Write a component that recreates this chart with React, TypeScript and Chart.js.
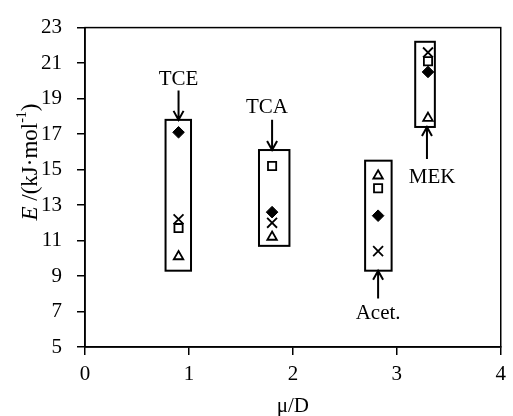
import React, { useEffect, useRef } from 'react';
import { Chart, registerables } from 'chart.js';

Chart.register(...registerables);

// Data
const solvents = ['TCE', 'TCA', 'Acet.', 'MEK'];
const dipoleMoment = [0.9, 1.8, 2.82, 3.3];
const diamondE = [17.1, 12.6, 12.4, 20.5];
const squareE = [11.7, 15.2, 13.95, 21.1];
const triangleE = [10.1, 11.2, 14.65, 17.9];
const crossE = [12.2, 12.0, 10.4, 21.6];

// Boxes around each solvent group (data units)
const boxXMin = [0.775, 1.674, 2.695, 3.177];
const boxXMax = [1.02, 1.967, 2.95, 3.366];
const boxYMin = [9.3, 10.7, 9.3, 17.4];
const boxYMax = [17.8, 16.1, 15.5, 22.2];

// Labels and arrows (data units)
const labelX = [0.9, 1.75, 2.82, 3.34];
const labelY = [20.05, 18.47, 6.9, 14.55];
const arrowX = [0.9, 1.8, 2.82, 3.29];
const arrowFrom = [19.45, 17.8, 7.73, 15.6];
const arrowTo = [17.8, 16.1, 9.3, 17.4];

const xTicks = [0, 1, 2, 3, 4];
const yTicks = [5, 7, 9, 11, 13, 15, 17, 19, 21, 23];

const FONT = '"Liberation Serif", "Times New Roman", serif';

const annotate = {
  id: 'annotate',
  afterDatasetsDraw(chart: any) {
    const { ctx, chartArea: a, scales } = chart;
    const x = scales.x;
    const y = scales.y;
    ctx.save();
    ctx.strokeStyle = '#000';
    ctx.fillStyle = '#000';
    // frame
    ctx.lineWidth = 1.5;
    ctx.strokeRect(a.left, a.top, a.right - a.left, a.bottom - a.top);
    // boxes
    ctx.lineWidth = 2;
    for (let i = 0; i < solvents.length; i++) {
      const x0 = x.getPixelForValue(boxXMin[i]);
      const x1 = x.getPixelForValue(boxXMax[i]);
      const y0 = y.getPixelForValue(boxYMax[i]);
      const y1 = y.getPixelForValue(boxYMin[i]);
      ctx.strokeRect(x0, y0, x1 - x0, y1 - y0);
    }
    // arrows
    ctx.lineWidth = 2;
    for (let i = 0; i < solvents.length; i++) {
      const ax = x.getPixelForValue(arrowX[i]);
      const ya = y.getPixelForValue(arrowFrom[i]);
      const yb = y.getPixelForValue(arrowTo[i]);
      const dir = yb > ya ? 1 : -1;
      ctx.beginPath();
      ctx.moveTo(ax, ya);
      ctx.lineTo(ax, yb);
      ctx.moveTo(ax - 5, yb - dir * 9);
      ctx.lineTo(ax, yb);
      ctx.lineTo(ax + 5, yb - dir * 9);
      ctx.stroke();
    }
    // labels
    ctx.font = '21px ' + FONT;
    ctx.textAlign = 'center';
    ctx.textBaseline = 'middle';
    for (let i = 0; i < solvents.length; i++) {
      ctx.fillText(solvents[i], x.getPixelForValue(labelX[i]), y.getPixelForValue(labelY[i]));
    }
    // x title
    ctx.fillText('\u03bc/D', (a.left + a.right) / 2, 406);
    // y title
    ctx.translate(31, 162);
    ctx.rotate(-Math.PI / 2);
    ctx.textAlign = 'left';
    const fItal = 'italic 23px ' + FONT;
    const fReg = '23px ' + FONT;
    const fSup = '14px ' + FONT;
    const parts: [string, string, number][] = [
      ['E', fItal, 0],
      [' /(kJ\u00b7mol', fReg, 0],
      ['-1', fSup, -9],
      [')', fReg, 0],
    ];
    let total = 0;
    for (const p of parts) { ctx.font = p[1]; total += ctx.measureText(p[0]).width; }
    let cx = -total / 2;
    for (const p of parts) {
      ctx.font = p[1];
      ctx.fillText(p[0], cx, p[2]);
      cx += ctx.measureText(p[0]).width;
    }
    ctx.restore();
  },
};

export default function App() {
  const ref = useRef<HTMLCanvasElement>(null);
  useEffect(() => {
    if (!ref.current) return;
    const mk = (data: number[], style: string, radius: number, fill: string, bw: number) => ({
      data: dipoleMoment.map((m, i) => ({ x: m, y: data[i] })),
      pointStyle: style,
      pointRadius: radius,
      pointBackgroundColor: fill,
      pointBorderColor: '#000',
      pointBorderWidth: bw,
      showLine: false,
    });
    const chart = new Chart(ref.current, {
      type: 'scatter',
      data: {
        datasets: [
          mk(diamondE, 'rectRot', 5.8, '#000', 1),
          mk(squareE, 'rect', 5.8, '#fff', 1.8),
          mk(triangleE, 'triangle', 5.5, '#fff', 1.8),
          mk(crossE, 'crossRot', 7, '#000', 1.8),
        ] as any,
      },
      options: {
        responsive: false,
        animation: false,
        layout: { padding: { top: 17, right: 5, left: 0, bottom: 0 } },
        plugins: { legend: { display: false }, tooltip: { enabled: false } },
        scales: {
          x: {
            type: 'linear',
            min: 0,
            max: 4,
            afterBuildTicks: (s: any) => { s.ticks = xTicks.map((v) => ({ value: v })); },
            afterFit: (s: any) => { s.height = 69; },
            grid: { drawOnChartArea: false, drawTicks: true, tickLength: 8, color: '#000', lineWidth: 1.5 },
            border: { display: true, color: '#000', width: 1.5 },
            ticks: { color: '#000', font: { family: FONT, size: 21 }, padding: 7, maxRotation: 0 },
          },
          y: {
            type: 'linear',
            min: 5,
            max: 23,
            afterBuildTicks: (s: any) => { s.ticks = yTicks.map((v) => ({ value: v })); },
            afterFit: (s: any) => { s.width = 85; },
            grid: { drawOnChartArea: false, drawTicks: true, tickLength: 8, color: '#000', lineWidth: 1.5 },
            border: { display: true, color: '#000', width: 1.5 },
            ticks: { color: '#000', font: { family: FONT, size: 21 }, padding: 15 },
          },
        },
      },
      plugins: [annotate],
    });
    return () => chart.destroy();
  }, []);
  return (
    <div style={{ position: 'absolute', left: 0, top: 0, width: 513, height: 416, background: '#fff' }}>
      <canvas ref={ref} width={513} height={416} />
    </div>
  );
}
